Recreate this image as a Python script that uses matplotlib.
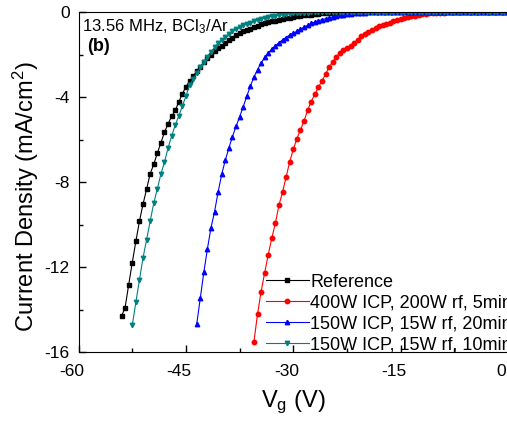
import numpy as np
import matplotlib
matplotlib.use('Agg')
import matplotlib.pyplot as plt
from matplotlib.transforms import ScaledTranslation

plt.rcParams['font.family'] = ['Liberation Sans', 'DejaVu Sans']
plt.rcParams['mathtext.fontset'] = 'custom'
plt.rcParams['mathtext.rm'] = 'Liberation Sans'
plt.rcParams['mathtext.it'] = 'Liberation Sans:italic'
plt.rcParams['mathtext.bf'] = 'Liberation Sans:bold'

# gate voltage sweep: every series starts at its own voltage, 0.5 V steps up to 0 V
vg_step = 0.5

ref_start = -54.0
ref_j = [-14.30, -13.89, -12.82, -11.78, -10.78, -9.84, -9.03, -8.33, -7.60, -7.16,
         -6.63, -6.14, -5.65, -5.25, -4.90, -4.62, -4.22, -3.84, -3.50, -3.25,
         -3.01, -2.78, -2.57, -2.36, -2.17, -2.00, -1.83, -1.69, -1.57, -1.45,
         -1.31, -1.19, -1.07, -0.99, -0.90, -0.83, -0.77, -0.71, -0.63, -0.56,
         -0.52, -0.47, -0.43, -0.39, -0.35, -0.32, -0.29, -0.26, -0.22, -0.20,
         -0.17, -0.15, -0.13, -0.11, -0.09, -0.08, -0.06, -0.05, -0.04, -0.03,
         -0.02, -0.02, -0.01,
         0, 0, 0, 0, 0, 0, 0, 0, 0, 0, 0, 0, 0, 0, 0, 0,
         0, 0, 0, 0, 0, 0, 0, 0, 0, 0, 0, 0, 0, 0, 0, 0,
         0, 0, 0, 0, 0, 0, 0, 0, 0, 0, 0, 0, 0, 0]

icp400_start = -35.5
icp400_j = [-15.50, -14.20, -13.15, -12.25, -11.40, -10.62, -9.92, -9.07, -8.46, -7.75,
            -7.03, -6.45, -5.95, -5.53, -5.12, -4.61, -4.20, -3.86, -3.54, -3.23,
            -2.92, -2.59, -2.33, -2.10, -1.92, -1.79, -1.68, -1.57, -1.44, -1.29,
            -1.14, -1.02, -0.93, -0.84, -0.75, -0.66, -0.59, -0.54, -0.49, -0.43,
            -0.38, -0.34, -0.29, -0.24, -0.19, -0.16, -0.13, -0.10, -0.08, -0.06,
            -0.05, -0.04, -0.03, -0.02, -0.01, -0.01,
            0, 0, 0, 0, 0, 0, 0, 0, 0, 0, 0, 0, 0, 0, 0, 0]

icp150_20_start = -43.5
icp150_20_j = [-14.68, -13.46, -12.23, -11.13, -10.14, -9.38, -8.45, -7.62, -6.96, -6.39,
               -5.85, -5.37, -4.92, -4.45, -3.95, -3.48, -3.05, -2.70, -2.39, -2.13,
               -1.92, -1.73, -1.58, -1.43, -1.30, -1.19, -1.07, -0.99, -0.90, -0.80,
               -0.70, -0.62, -0.53, -0.46, -0.40, -0.35, -0.31, -0.26, -0.22, -0.18,
               -0.14, -0.11, -0.09, -0.07, -0.06, -0.04, -0.03, -0.02, -0.01, -0.01,
               0, 0, 0, 0, 0, 0, 0, 0, 0, 0, 0, 0, 0, 0, 0, 0, 0, 0, 0,
               0, 0, 0, 0, 0, 0, 0, 0, 0, 0, 0, 0, 0, 0, 0, 0, 0, 0, 0]

icp150_10_start = -52.5
icp150_10_j = [-14.72, -13.65, -12.59, -11.56, -10.70, -9.83, -8.99, -8.31, -7.61, -7.05,
               -6.38, -5.83, -5.31, -4.88, -4.41, -3.95, -3.42, -3.16, -2.88, -2.60,
               -2.33, -2.09, -1.87, -1.65, -1.45, -1.29, -1.16, -1.03, -0.90, -0.79,
               -0.71, -0.62, -0.56, -0.50, -0.43, -0.37, -0.31, -0.27, -0.23, -0.19,
               -0.16, -0.13, -0.11, -0.09, -0.07, -0.06, -0.05, -0.04, -0.03, -0.02,
               -0.01, -0.01,
               0, 0, 0, 0, 0, 0, 0, 0, 0, 0, 0, 0, 0, 0, 0, 0, 0, 0,
               0, 0, 0, 0, 0, 0, 0, 0, 0, 0, 0, 0, 0, 0, 0, 0, 0, 0,
               0, 0, 0, 0, 0, 0, 0, 0, 0, 0, 0, 0, 0, 0, 0, 0, 0, 0]

labels = ['Reference', '400W ICP, 200W rf, 5min',
          '150W ICP, 15W rf, 20min', '150W ICP, 15W rf, 10min']
series = [(ref_start, ref_j), (icp400_start, icp400_j),
          (icp150_20_start, icp150_20_j), (icp150_10_start, icp150_10_j)]
colors = ['#000000', '#ff0000', '#0000ff', '#008080']
markers = ['s', 'o', '^', 'v']

x_major = [-60, -45, -30, -15, 0]
x_minor = [-52.5, -37.5, -22.5, -7.5]
y_major = [-16, -12, -8, -4, 0]
y_minor = [-14, -10, -6, -2]

fig = plt.figure(figsize=(5.07, 4.21), dpi=100)
ax = fig.add_axes([0.155, 0.163, 0.847, 0.808])

for (start, j), lab, c, m in zip(series, labels, colors, markers):
    vg = start + vg_step * np.arange(len(j))
    ax.plot(vg, j, color=c, lw=0.8, marker=m, ms=3.2, mec=c, mfc=c, label=lab)

ax.set_xlim(-60, 0)
ax.set_ylim(-16, 0)
ax.set_xticks(x_major)
ax.set_xticks(x_minor, minor=True)
ax.set_yticks(y_major)
ax.set_yticks(y_minor, minor=True)
ax.set_xticklabels([str(v) for v in x_major])
ax.set_yticklabels([str(v) for v in y_major])
ax.tick_params(which='both', direction='in', labelsize=12.5, width=1)
ax.tick_params(which='major', length=5)
ax.tick_params(which='minor', length=3)
ax.tick_params(axis='x', pad=8.5)
ax.tick_params(axis='y', pad=6.5)

# x tick labels sit a little left of their ticks in the original
shift = ScaledTranslation(-0.07, 0, fig.dpi_scale_trans)
for lbl in ax.get_xticklabels():
    lbl.set_transform(lbl.get_transform() + shift)

ax.set_xlabel('V$_\\mathregular{g}$ (V)', fontsize=17, labelpad=7)
ax.set_ylabel('Current Density (mA/cm$^\\mathregular{2}$)', fontsize=17)
ax.yaxis.set_label_coords(-0.088, 0.459)

ax.text(0.008, 0.985, '13.56 MHz, BCl$_\\mathregular{3}$/Ar', transform=ax.transAxes,
        fontsize=12, va='top', ha='left')
ax.text(0.02, 0.925, '(b)', transform=ax.transAxes, fontsize=13,
        fontweight='bold', va='top', ha='left')

ax.legend(loc='upper left', bbox_to_anchor=(0.51, 0.367), bbox_transform=fig.transFigure,
          frameon=False, fontsize=13, handlelength=2.4, handletextpad=0.05,
          labelspacing=0.22, borderaxespad=0)

fig.savefig('out.png', dpi=100)
